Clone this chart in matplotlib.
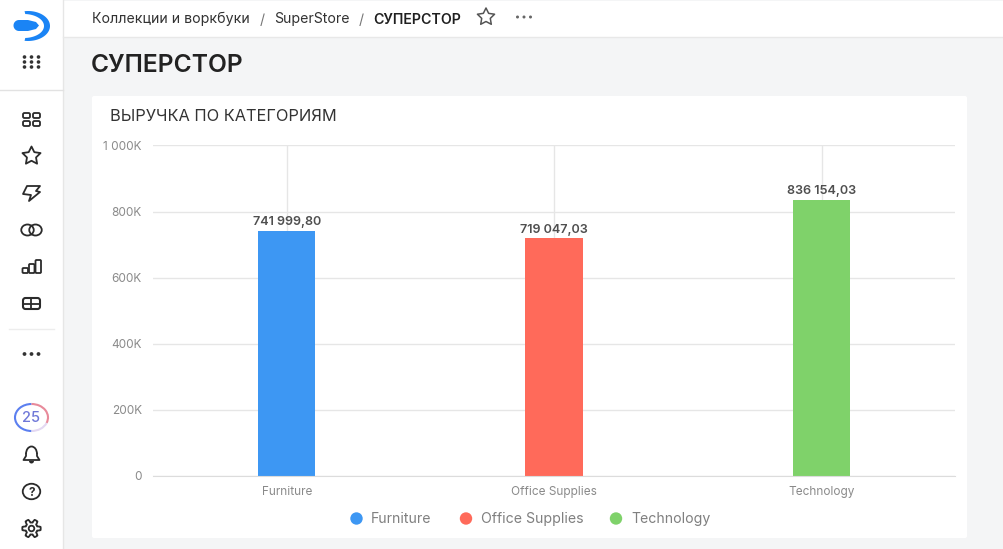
import numpy as np
import matplotlib
matplotlib.use("Agg")
import matplotlib.pyplot as plt
from matplotlib.patches import Rectangle, FancyBboxPatch, Circle, Polygon, Ellipse, Arc, Wedge

plt.rcParams['font.family'] = ['Inter', 'DejaVu Sans']

categories = ["Furniture", "Office Supplies", "Technology"]
revenue = [741999.80, 719047.03, 836154.03]
value_labels = ["741 999,80", "719 047,03", "836 154,03"]
colors = ["#3d97f3", "#ff6a5a", "#7fd26a"]
y_ticks = [0, 200000, 400000, 600000, 800000, 1000000]
y_tick_labels = ["0", "200K", "400K", "600K", "800K", "1 000K"]
breadcrumbs = ["Коллекции и воркбуки", "SuperStore", "СУПЕРСТОР"]

W, H = 1004, 549
fig = plt.figure(figsize=(W / 100, H / 100), dpi=100, facecolor="#f4f5f6")

# Page chrome is laid out in screen pixels, origin at the top left
ui = fig.add_axes([0, 0, 1, 1], zorder=0)
ui.set_xlim(0, W)
ui.set_ylim(H, 0)
ui.axis("off")

INK = "#2b2b2b"
ui.add_patch(Rectangle((0, 0), 63, H, fc="white", ec="none"))
ui.plot([63.5, 63.5], [0, H], color="#e6e6e6", lw=1)
ui.add_patch(Rectangle((63, 1), W - 63, 36, fc="white", ec="none"))
ui.plot([63, W], [36.5, 36.5], color="#e8e8e8", lw=1)
ui.plot([0, 63], [89.5, 89.5], color="#e2e2e2", lw=1)
ui.plot([9, 54], [329, 329], color="#ededed", lw=1)
ui.add_patch(FancyBboxPatch((92, 96), 875, 442, boxstyle="round,pad=0,rounding_size=2", fc="white", ec="none"))

# Logo: a crescent around a tapered blob
t_out = np.linspace(-np.pi * 0.55, np.pi * 0.55, 60)
t_in = np.linspace(np.pi * 0.48, -np.pi * 0.48, 60)
outer = np.c_[28 + 22 * np.cos(t_out), 26 + 15 * np.sin(t_out)]
inner = np.c_[24 + 20 * np.cos(t_in), 26 + 12 * np.sin(t_in)]
ui.add_patch(Polygon(np.r_[outer, inner], closed=True, fc="#1a84f5", ec="none"))
cap = np.linspace(np.pi / 2, 3 * np.pi / 2, 20)
blob = np.r_[np.c_[19 + 5.5 * np.cos(cap), 25.5 + 5.5 * np.sin(cap)],
             [(28, 20), (36, 22), (39, 25.5), (36, 29), (28, 31)]]
ui.add_patch(Polygon(blob, closed=True, fc="#1a84f5", ec="none"))

# App launcher dots
for gx in (24.5, 31.5, 38.5):
    for gy in (57, 62, 67):
        ui.add_patch(Circle((gx, gy), 1.8, fc="#333333", ec="none"))

# Dashboards icon
for gx, gy in ((23, 113), (33, 113), (23, 121), (33, 121)):
    ui.add_patch(FancyBboxPatch((gx, gy), 7, 5, boxstyle="round,pad=0,rounding_size=1.5", fc="none", ec=INK, lw=1.3))


def star(cx, cy, r, color, lw):
    a = np.deg2rad(np.arange(10) * 36 - 90)
    rad = np.where(np.arange(10) % 2 == 0, r, r * 0.5)
    ui.add_patch(Polygon(np.c_[cx + rad * np.cos(a), cy + rad * np.sin(a)], closed=True, fc="none", ec=color, lw=lw, joinstyle="round"))


star(31.5, 156, 9.5, INK, 1.3)
star(486, 17, 9, "#555555", 1.1)

# Lightning icon
ui.add_patch(Polygon([(27, 186), (40, 186), (36, 191), (40, 192), (29, 201), (31, 195), (23, 194)],
                     closed=True, fc="none", ec=INK, lw=1.3, joinstyle="round"))

# Linked rings
ui.add_patch(Ellipse((27.5, 230), 12.5, 11, fc="none", ec=INK, lw=1.3))
ui.add_patch(Ellipse((35.5, 230), 12.5, 11, fc="none", ec=INK, lw=1.3))

# Rising bars icon
for x0, y0, h in ((22.5, 268, 5), (29, 264, 9), (35.5, 260, 13)):
    ui.add_patch(FancyBboxPatch((x0, y0), 5.5, h, boxstyle="round,pad=0,rounding_size=1", fc="none", ec=INK, lw=1.3))

# Table icon
ui.add_patch(FancyBboxPatch((23, 298), 17, 11, boxstyle="round,pad=0,rounding_size=2.5", fc="none", ec=INK, lw=1.5))
ui.plot([23, 40], [303.5, 303.5], color=INK, lw=1.3)
ui.plot([31.5, 31.5], [298, 309], color=INK, lw=1.3)

# "More" dots in the rail and the header
for cx in (24.5, 31.5, 38.5):
    ui.add_patch(Circle((cx, 354), 1.9, fc="#333333", ec="none"))
for cx in (517.5, 524, 530.5):
    ui.add_patch(Circle((cx, 17), 1.5, fc="#666666", ec="none"))

# Usage badge
ui.add_patch(Arc((31.5, 417.5), 33, 27, theta1=90, theta2=270, ec="#5b7ff0", lw=1.5))
ui.add_patch(Arc((31.5, 417.5), 33, 27, theta1=-90, theta2=20, ec="#e88a9a", lw=1.5))
ui.add_patch(Arc((31.5, 417.5), 33, 27, theta1=20, theta2=90, ec="#e3d8f2", lw=1.5))
ui.text(31.5, 422, "25", color="#6f78d8", fontsize=10.5, fontweight="medium", ha="center", va="baseline")

# Bell
ui.add_patch(Arc((31.5, 454), 11, 15, theta1=180, theta2=360, ec=INK, lw=1.3))
ui.plot([26, 26, 23.5, 39.5, 37, 37], [454, 456, 460, 460, 456, 454], color=INK, lw=1.3)
ui.add_patch(Wedge((31.5, 461), 2.5, 0, 180, fc=INK, ec="none"))

# Help
ui.add_patch(Ellipse((31.5, 491.5), 17.5, 15.5, fc="none", ec=INK, lw=1.3))
ui.text(31.5, 495.5, "?", color=INK, fontsize=8.5, fontweight="bold", ha="center", va="baseline")

# Settings gear outline with six teeth
g = np.deg2rad(np.linspace(0, 360, 145))
rg = 7.6 + 1.6 * np.clip(2.2 * np.cos(6 * g), -1, 1)
ui.add_patch(Polygon(np.c_[31.5 + rg * np.cos(g), 528.5 + rg * np.sin(g)], closed=True, fc="none", ec=INK, lw=1.3, joinstyle="round"))
ui.add_patch(Circle((31.5, 528.5), 2.8, fc="none", ec=INK, lw=1.3))

# Breadcrumbs and headings
ui.text(92, 23.5, breadcrumbs[0], color="#333333", fontsize=10.2, va="baseline")
ui.text(259.5, 23.5, "/", color="#777777", fontsize=10.2, va="baseline")
ui.text(274, 23.5, breadcrumbs[1], color="#333333", fontsize=10.2, va="baseline")
ui.text(359, 23.5, "/", color="#777777", fontsize=10.2, va="baseline")
ui.text(373.5, 23.5, breadcrumbs[2], color="#1f1f1f", fontsize=10.2, fontweight="semibold", va="baseline")
ui.text(91, 72, "СУПЕРСТОР", color="#222222", fontsize=17.7, fontweight="semibold", va="baseline")
ui.text(110, 121, "ВЫРУЧКА ПО КАТЕГОРИЯМ", color="#333333", fontsize=11.8, va="baseline")

# Bar chart
left, right, top, bottom = 153.0, 955.5, 145.4, 476
ax = fig.add_axes([left / W, 1 - bottom / H, (right - left) / W, (bottom - top) / H], zorder=1)
ax.patch.set_alpha(0)
xpos = np.arange(len(categories))
ax.set_xlim(-0.5, len(categories) - 0.5)
ax.set_ylim(0, 1000000)
ax.set_axisbelow(True)
ax.grid(True, axis="both", color="#e6e6e6", lw=1)
bars = ax.bar(xpos, revenue, width=57.5 / 267.5, color=colors, zorder=2)
for x, v, lab in zip(xpos, revenue, value_labels):
    ax.annotate(lab, (x, v), xytext=(0, 2), textcoords="offset points", ha="center", va="bottom",
                fontsize=9.1, fontweight="semibold", color="#4f4f4f")
ax.set_xticks(xpos, categories)
ax.set_yticks(y_ticks, y_tick_labels)
ax.tick_params(axis="both", length=0, labelsize=8.5, labelcolor="#8a8a8a")
ax.tick_params(axis="x", pad=7.5)
ax.tick_params(axis="y", pad=8)
for side in ("top", "right", "left"):
    ax.spines[side].set_visible(False)
ax.spines["bottom"].set_color("#dcdcdc")

# Legend
for name, color, mx, tx in zip(categories, colors, (356.5, 466, 616), (371, 481, 631)):
    ui.add_patch(Circle((mx, 518.5), 6.2, fc=color, ec="none"))
    ui.text(tx, 523, name, color="#808080", fontsize=10.2, va="baseline")

fig.savefig("out.png", dpi=100, facecolor=fig.get_facecolor())
